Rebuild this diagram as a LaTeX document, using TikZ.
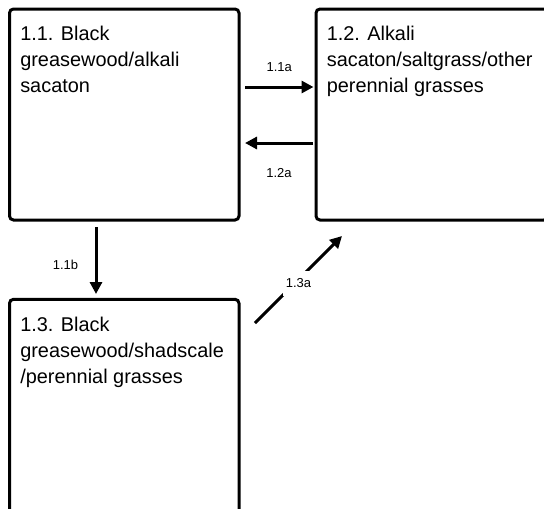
\documentclass[tikz,border=0pt]{standalone}
\usepackage{fontspec}
\setmainfont{Liberation Sans}
\usetikzlibrary{arrows.meta, positioning}

\begin{document}
\begin{tikzpicture}[x=1pt, y=1pt,
block/.style={rectangle, draw=black, line width=3pt, rounded corners=4pt,
    minimum width=229.5pt, minimum height=211pt, inner sep=0pt, outer sep=0pt},
block-text/.style={anchor=base west, align=left, inner sep=0pt,
    font=\fontsize{19.9}{26}\selectfont},
line/.style={draw, line width=3pt, -{Triangle[length=12pt, width=12pt]}},
tag/.style={font=\fontsize{13}{15}\selectfont, inner sep=0pt}
]
\useasboundingbox (0,0) rectangle (544,-509);

\node [block] (state-11) at (124.25,-114.5) {};
\node [block, right=77pt of state-11, minimum width=232pt] (state-12) {};
\node [block, below=79.3pt of state-11, minimum height=225pt] (state-13) {};

\node [block-text] (text-11) at ([shift={(10.6,-83.7)}]state-11.north west)
    {1.1. Black\\greasewood/alkali\\sacaton};
\node [block-text] (text-12) at ([shift={(10.6,-83.7)}]state-12.north west)
    {1.2. Alkali\\sacaton/saltgrass/other\\perennial grasses};
\node [block-text] (text-13) at ([shift={(10.6,-83.7)}]state-13.north west)
    {1.3. Black\\greasewood/shadscale\\/perennial grasses};

\draw [line] ([shift={(6,27.5)}]state-11.east) --
    node [tag, above=14.3pt] (tag-11a) {1.1a} ([shift={(-2.5,27.5)}]state-12.west);
\draw [line] ([shift={(-3,-28.5)}]state-12.west) --
    node [tag, below=24.35pt] (tag-12a) {1.2a} ([shift={(6,-28.5)}]state-11.east);
\draw [line] ([shift={(-28.25,-7)}]state-11.south) --
    node [tag, left=16.35pt, yshift=-4.5pt] (tag-11b) {1.1b} ([shift={(-28.25,5.3)}]state-13.north);
\draw [line] ([shift={(16,-23.7)}]state-13.north east) --
    node [tag, fill=white, inner xsep=3pt, inner ysep=8pt, yshift=-4pt] (tag-13a) {1.3a}
    ([shift={(26,-16)}]state-12.south west);
\end{tikzpicture}
\end{document}
